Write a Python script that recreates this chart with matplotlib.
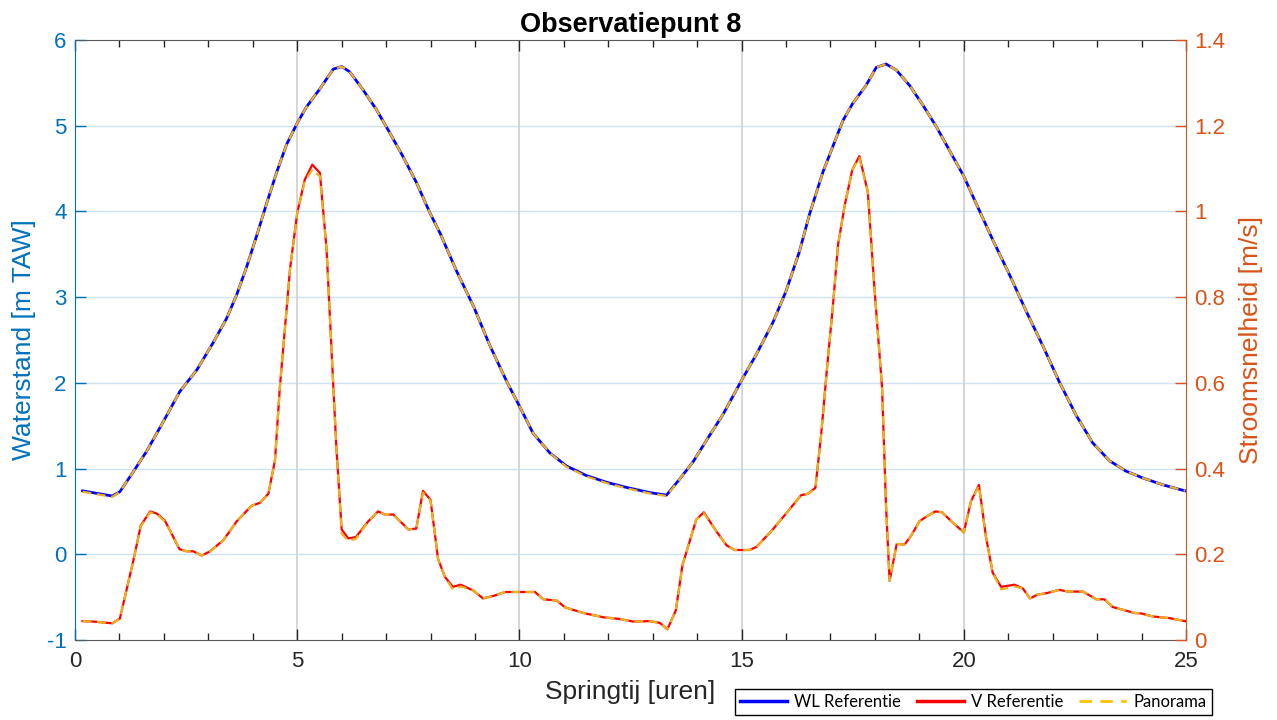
import matplotlib
matplotlib.use("Agg")
import matplotlib.pyplot as plt
from matplotlib.ticker import MultipleLocator, FuncFormatter
from matplotlib.lines import Line2D

plt.rcParams['font.family'] = ['Liberation Sans', 'DejaVu Sans']
plt.rcParams['axes.unicode_minus'] = False

# tijd [uren] en waterstand [m TAW]
t_wl = [0.17, 0.5, 0.84, 1.01, 1.27, 1.61, 1.99, 2.36, 2.74, 3.11,
        3.41, 3.64, 3.86, 4.09, 4.31, 4.54, 4.76, 5.0, 5.21, 5.51,
        5.81, 6.0, 6.18, 6.48, 6.78, 7.08, 7.38, 7.68, 7.98, 8.22,
        8.59, 8.97, 9.34, 9.72, 10.0, 10.31, 10.69, 11.06, 11.5, 11.96,
        12.41, 12.93, 13.31, 13.61, 13.91, 14.21, 14.58, 15.0, 15.33, 15.70,
        16.0, 16.30, 16.53, 16.83, 17.28, 17.50, 17.80, 18.03, 18.25, 18.48,
        18.78, 19.08, 19.38, 19.68, 20.0, 20.28, 20.65, 21.03, 21.40, 21.78,
        22.15, 22.53, 22.90, 23.28, 23.65, 24.03, 24.48, 24.98]
wl_ref = [0.74, 0.71, 0.68, 0.73, 0.93, 1.20, 1.55, 1.90, 2.15, 2.47,
          2.75, 3.03, 3.35, 3.72, 4.09, 4.46, 4.78, 5.03, 5.22, 5.43,
          5.66, 5.69, 5.63, 5.42, 5.19, 4.92, 4.64, 4.34, 3.99, 3.74,
          3.30, 2.89, 2.43, 2.01, 1.73, 1.41, 1.18, 1.03, 0.92, 0.84,
          0.78, 0.72, 0.69, 0.88, 1.08, 1.33, 1.63, 2.03, 2.33, 2.70,
          3.07, 3.53, 3.97, 4.46, 5.06, 5.26, 5.47, 5.68, 5.72, 5.65,
          5.47, 5.24, 4.99, 4.71, 4.41, 4.09, 3.67, 3.26, 2.84, 2.43,
          2.01, 1.62, 1.30, 1.09, 0.97, 0.89, 0.81, 0.74]
# Panorama valt visueel samen met de referentie
wl_pan = [0.73, 0.70, 0.67, 0.73, 0.93, 1.20, 1.55, 1.90, 2.15, 2.47,
          2.75, 3.03, 3.35, 3.72, 4.09, 4.46, 4.78, 5.03, 5.22, 5.43,
          5.66, 5.69, 5.63, 5.42, 5.19, 4.92, 4.64, 4.34, 3.99, 3.74,
          3.30, 2.89, 2.43, 2.01, 1.73, 1.41, 1.18, 1.02, 0.91, 0.83,
          0.77, 0.71, 0.68, 0.88, 1.08, 1.33, 1.63, 2.03, 2.33, 2.70,
          3.07, 3.53, 3.97, 4.46, 5.06, 5.26, 5.47, 5.68, 5.72, 5.65,
          5.47, 5.24, 4.99, 4.71, 4.41, 4.09, 3.67, 3.26, 2.84, 2.43,
          2.01, 1.62, 1.30, 1.09, 0.97, 0.89, 0.81, 0.74]

# tijd [uren] en stroomsnelheid [m/s]
t_v = [0.17, 0.41, 0.84, 1.01, 1.31, 1.48, 1.69, 1.84, 2.02, 2.17,
       2.35, 2.51, 2.66, 2.85, 3.04, 3.34, 3.64, 3.97, 4.16, 4.35,
       4.50, 4.61, 4.84, 5.0, 5.17, 5.34, 5.51, 5.66, 5.77, 5.88,
       6.0, 6.15, 6.32, 6.60, 6.82, 6.99, 7.16, 7.50, 7.68, 7.83,
       8.0, 8.17, 8.32, 8.50, 8.68, 8.97, 9.18, 9.42, 9.68, 10.0,
       10.35, 10.54, 10.84, 11.03, 11.44, 11.89, 12.26, 12.56, 12.93, 13.16,
       13.33, 13.52, 13.67, 13.98, 14.15, 14.43, 14.66, 14.84, 15.18, 15.33,
       15.67, 16.0, 16.34, 16.49, 16.66, 16.79, 16.94, 17.05, 17.17, 17.32,
       17.49, 17.65, 17.84, 17.99, 18.16, 18.25, 18.33, 18.49, 18.67, 18.82,
       19.0, 19.19, 19.36, 19.51, 19.72, 20.0, 20.16, 20.34, 20.50, 20.65,
       20.84, 21.14, 21.33, 21.49, 21.66, 21.85, 22.15, 22.34, 22.68, 22.98,
       23.16, 23.35, 23.84, 23.99, 24.25, 24.63, 24.98]
v_ref = [0.044, 0.043, 0.039, 0.050, 0.184, 0.267, 0.300, 0.295, 0.279, 0.249,
         0.212, 0.207, 0.207, 0.197, 0.207, 0.233, 0.277, 0.313, 0.320, 0.341,
         0.419, 0.590, 0.867, 0.996, 1.074, 1.109, 1.090, 0.913, 0.682, 0.452,
         0.258, 0.237, 0.240, 0.277, 0.300, 0.292, 0.293, 0.258, 0.260, 0.348,
         0.327, 0.189, 0.148, 0.124, 0.129, 0.115, 0.097, 0.103, 0.112, 0.112,
         0.112, 0.095, 0.092, 0.076, 0.063, 0.053, 0.049, 0.043, 0.044, 0.040,
         0.025, 0.069, 0.175, 0.281, 0.298, 0.254, 0.221, 0.210, 0.210, 0.217,
         0.254, 0.295, 0.338, 0.341, 0.355, 0.479, 0.655, 0.774, 0.922, 1.014,
         1.097, 1.129, 1.046, 0.820, 0.590, 0.313, 0.138, 0.224, 0.223, 0.244,
         0.277, 0.290, 0.300, 0.298, 0.277, 0.251, 0.323, 0.362, 0.240, 0.157,
         0.124, 0.129, 0.120, 0.097, 0.106, 0.109, 0.117, 0.113, 0.113, 0.095,
         0.095, 0.077, 0.063, 0.062, 0.055, 0.051, 0.044]
v_pan = [0.044, 0.043, 0.039, 0.050, 0.184, 0.265, 0.298, 0.293, 0.277, 0.249,
         0.212, 0.207, 0.207, 0.197, 0.207, 0.233, 0.277, 0.313, 0.320, 0.341,
         0.419, 0.590, 0.867, 0.996, 1.070, 1.098, 1.082, 0.913, 0.682, 0.452,
         0.248, 0.232, 0.236, 0.277, 0.300, 0.292, 0.293, 0.258, 0.260, 0.344,
         0.325, 0.189, 0.148, 0.118, 0.125, 0.115, 0.097, 0.103, 0.112, 0.112,
         0.112, 0.095, 0.092, 0.076, 0.063, 0.053, 0.049, 0.043, 0.044, 0.040,
         0.025, 0.069, 0.175, 0.281, 0.296, 0.254, 0.221, 0.210, 0.210, 0.217,
         0.254, 0.295, 0.338, 0.341, 0.355, 0.479, 0.655, 0.774, 0.922, 1.014,
         1.097, 1.125, 1.046, 0.820, 0.590, 0.313, 0.138, 0.224, 0.223, 0.244,
         0.277, 0.290, 0.300, 0.298, 0.277, 0.251, 0.323, 0.360, 0.240, 0.157,
         0.118, 0.125, 0.120, 0.097, 0.106, 0.109, 0.117, 0.113, 0.113, 0.095,
         0.095, 0.077, 0.063, 0.062, 0.055, 0.051, 0.044]

blue_ax = '#0072BD'
orange_ax = '#D95319'
dark = '#262626'
pan_col = '#EDB120'

fig = plt.figure(figsize=(12.77, 7.2), dpi=100)
ax = fig.add_axes([75 / 1277, 80 / 720, 1111 / 1277, 600 / 720])
ax2 = ax.twinx()

ax.plot(t_wl, wl_ref, color='#0000FF', lw=2.0, zorder=3)
ax.plot(t_wl, wl_pan, color=pan_col, lw=1.6, ls=(0, (4, 2.5)), zorder=4)
ax2.plot(t_v, v_ref, color='#FF0000', lw=1.6, zorder=3)
ax2.plot(t_v, v_pan, color=pan_col, lw=1.6, ls=(0, (4, 2.5)), zorder=4)

ax.set_xlim(0, 25)
ax.set_ylim(-1, 6)
ax2.set_ylim(0, 1.4)

ax.xaxis.set_major_locator(MultipleLocator(5))
ax.xaxis.set_minor_locator(MultipleLocator(1))
ax.yaxis.set_major_locator(MultipleLocator(1))
ax2.yaxis.set_major_locator(MultipleLocator(0.2))
ax2.yaxis.set_major_formatter(FuncFormatter(lambda v, p: f'{v:g}'))

# rasterlijnen
ax.set_axisbelow(True)
for yv in range(0, 6):
    ax.axhline(yv, color='#CFE3F3', lw=1.0, zorder=0)
for xv in [5, 10, 15, 20]:
    ax.axvline(xv, color='#CFCFCF', lw=1.2, zorder=0)

ax.tick_params(axis='x', which='both', direction='in', top=True, bottom=True,
               colors=dark, labelsize=16, pad=8)
ax.tick_params(axis='x', which='major', length=8, width=1)
ax.tick_params(axis='x', which='minor', length=5, width=1)
ax.tick_params(axis='y', direction='in', length=8, width=1, colors=blue_ax,
               labelsize=16, right=False, pad=6)
ax2.tick_params(axis='y', direction='in', length=8, width=1, colors=orange_ax,
                labelsize=16, pad=6)

ax.spines['left'].set_color(blue_ax)
ax.spines['bottom'].set_color('#5a5a5a')
ax.spines['top'].set_color('#5a5a5a')
ax.spines['right'].set_visible(False)
ax2.spines['right'].set_color(orange_ax)
ax2.spines['left'].set_visible(False)
ax2.spines['top'].set_visible(False)
ax2.spines['bottom'].set_visible(False)

ax.set_xlabel('Springtij [uren]', fontsize=19, color=dark, labelpad=6)
ax.set_ylabel('Waterstand [m TAW]', fontsize=19, color=blue_ax, labelpad=8)
ax2.set_ylabel('Stroomsnelheid [m/s]', fontsize=19, color=orange_ax, labelpad=10)
ax.set_title('Observatiepunt 8', fontsize=19.5, fontweight='bold', color='black', pad=6)

handles = [Line2D([], [], color='#0000FF', lw=2.5),
           Line2D([], [], color='#FF0000', lw=2.5),
           Line2D([], [], color='#FFC000', lw=2.0, ls=(0, (4.5, 3)))]
fig.legend(handles, ['WL Referentie', 'V Referentie', 'Panorama'],
           loc='upper left', bbox_to_anchor=(735 / 1277, 1 - 689 / 720),
           ncol=3, frameon=True, fancybox=False, edgecolor='black',
           framealpha=1, borderaxespad=0, handlelength=2.8, handletextpad=0.45,
           columnspacing=0.95, borderpad=0.3,
           prop={'family': ['Lato', 'DejaVu Sans'], 'size': 12})

fig.savefig('out.png', dpi=100)
